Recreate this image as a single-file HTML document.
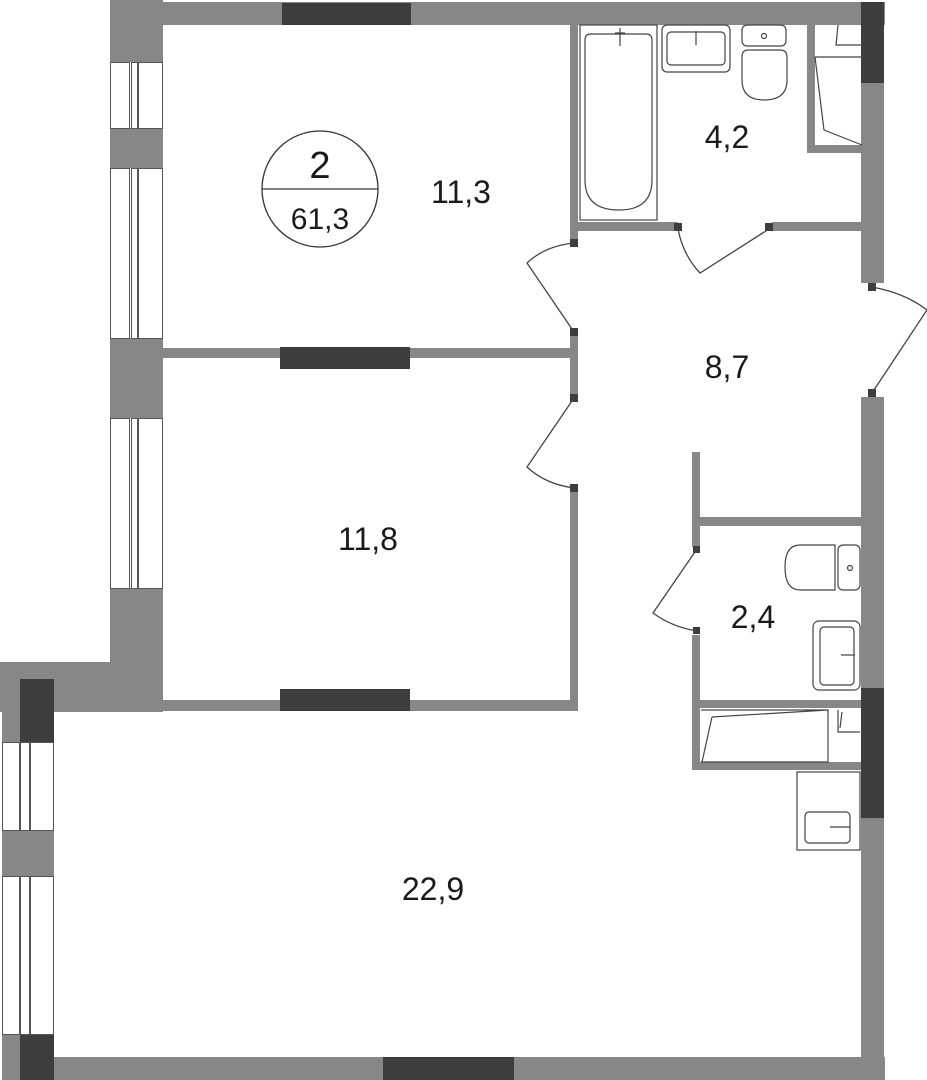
<!DOCTYPE html>
<html><head><meta charset="utf-8"><style>
html,body{margin:0;padding:0;background:#fff;}
svg{display:block;}
text{font-family:"Liberation Sans",Arial,sans-serif;fill:#1a1a1a;}
</style></head><body>
<svg width="927" height="1080" viewBox="0 0 927 1080" xmlns="http://www.w3.org/2000/svg">
<g fill="#878787">
<rect x="110" y="2" width="775" height="23"/>
<rect x="110" y="0" width="53" height="62"/>
<rect x="110" y="128" width="53" height="40"/>
<rect x="110" y="338" width="53" height="80"/>
<rect x="110" y="588" width="53" height="124"/>
<rect x="0" y="662" width="163" height="50"/>
<rect x="2" y="662" width="52" height="80"/>
<rect x="2" y="830" width="52" height="46"/>
<rect x="2" y="1034" width="52" height="46"/>
<rect x="2" y="1057" width="883" height="23"/>
<rect x="163" y="348" width="415" height="10"/>
<rect x="163" y="700" width="415" height="11"/>
<rect x="570" y="487" width="8" height="224"/>
<rect x="570" y="336" width="8" height="59"/>
<rect x="570" y="10" width="8" height="233"/>
<rect x="578" y="222" width="100" height="9"/>
<rect x="772" y="222" width="90" height="9"/>
<rect x="807" y="25" width="8" height="128"/>
<rect x="807" y="145" width="55" height="8"/>
<rect x="861" y="2" width="23" height="281"/>
<rect x="861" y="397" width="23" height="683"/>
<rect x="692" y="452" width="8" height="95"/>
<rect x="692" y="635" width="8" height="135"/>
<rect x="700" y="517" width="162" height="9"/>
<rect x="700" y="700" width="162" height="8"/>
<rect x="692" y="762" width="170" height="8"/>
</g>
<g fill="#3d3d3d">
<rect x="282" y="3" width="129" height="22"/>
<rect x="280" y="347" width="130" height="22"/>
<rect x="280" y="689" width="130" height="22"/>
<rect x="383" y="1057" width="131" height="23"/>
<rect x="20" y="679" width="34" height="63"/>
<rect x="20" y="1034" width="34" height="46"/>
<rect x="861" y="2" width="23" height="81"/>
<rect x="861" y="688" width="23" height="130"/>
<rect x="570" y="239" width="8" height="8"/>
<rect x="570" y="328" width="8" height="8"/>
<rect x="570" y="394" width="8" height="8"/>
<rect x="570" y="484" width="8" height="8"/>
<rect x="674" y="223" width="8" height="8"/>
<rect x="765" y="223" width="8" height="8"/>
<rect x="868" y="283" width="8" height="8"/>
<rect x="868" y="389" width="8" height="8"/>
<rect x="693" y="546" width="7" height="7"/>
<rect x="693" y="627" width="7" height="7"/>
</g>
<g fill="#fff" stroke="#555" stroke-width="1">
<rect x="110.5" y="62.5" width="19" height="66"/><rect x="131.5" y="62.5" width="6" height="66"/><rect x="138.5" y="62.5" width="24" height="66"/>
<rect x="110.5" y="168.5" width="19" height="170"/><rect x="131.5" y="168.5" width="6" height="170"/><rect x="138.5" y="168.5" width="24" height="170"/>
<rect x="110.5" y="418.5" width="19" height="170"/><rect x="131.5" y="418.5" width="6" height="170"/><rect x="138.5" y="418.5" width="24" height="170"/>
<rect x="2.5" y="742.5" width="17" height="88"/><rect x="20.5" y="742.5" width="9" height="88"/><rect x="30.5" y="742.5" width="23" height="88"/>
<rect x="2.5" y="876.5" width="17" height="158"/><rect x="20.5" y="876.5" width="9" height="158"/><rect x="30.5" y="876.5" width="23" height="158"/>
</g>
<g fill="none" stroke="#444" stroke-width="1.3">
<path d="M574 243 Q545 246 527 263 L574 332"/>
<path d="M574 398 L527 467 Q545 484 574 488"/>
<path d="M678 229 Q683 255 700 273 L769 229"/>
<path d="M872 287 Q905 293 927 310 L872 393"/>
<path d="M697 549 L653 613 Q672 627 697 631"/>
</g>
<g fill="none" stroke="#444" stroke-width="1.2">
<rect x="580" y="25" width="77" height="195"/>
<path d="M591 34 H646 Q652 34 652 40 V180 Q652 210 619 210 Q585 210 585 180 V40 Q585 34 591 34 Z"/>
<rect x="662" y="25" width="68" height="47" rx="5"/>
<rect x="667" y="32" width="58" height="33" rx="4"/>
<rect x="742" y="25" width="44" height="21" rx="5"/>
<path d="M748 50 H780 Q787 50 787 57 V80 Q787 100 764 100 Q742 100 742 80 V57 Q742 50 748 50 Z"/>
<circle cx="764" cy="36" r="2.5"/>
<path d="M620 28 v18 M615 33 h10"/>
<path d="M696 31 v14"/>
<path d="M815 57 L865 57 M838 25 L836 45 L862 45 M815 57 L824 130 L862 145"/>
<path d="M835 545 H800 Q785 545 785 567 Q785 590 800 590 H835 Z"/>
<rect x="838" y="545" width="22" height="45" rx="5"/>
<circle cx="850" cy="568" r="2.5"/>
<rect x="813" y="621" width="47" height="69" rx="6"/>
<rect x="820" y="627" width="34" height="58" rx="4"/>
<path d="M841 655 h14"/>
<path d="M701 710 H828 V762 H701 M712 717 L828 710 M712 717 L702 762"/>
<path d="M838 710 V732 H860 M840 728 L842 712"/>
<rect x="797" y="772" width="63" height="78"/>
<rect x="805" y="812" width="45" height="31" rx="4"/>
<path d="M830 827 h20"/>
</g>
<circle cx="320" cy="189" r="58" fill="none" stroke="#333" stroke-width="1.3"/>
<line x1="262" y1="189" x2="378" y2="189" stroke="#333" stroke-width="1.3"/>
<text x="320" y="178" font-size="38" text-anchor="middle">2</text>
<text x="320" y="229" font-size="30" text-anchor="middle">61,3</text>
<g font-size="32" text-anchor="middle">
<text x="461" y="203">11,3</text>
<text x="727" y="148">4,2</text>
<text x="727" y="378">8,7</text>
<text x="368" y="550">11,8</text>
<text x="753" y="628">2,4</text>
<text x="433" y="900">22,9</text>
</g>
</svg>
</body></html>
